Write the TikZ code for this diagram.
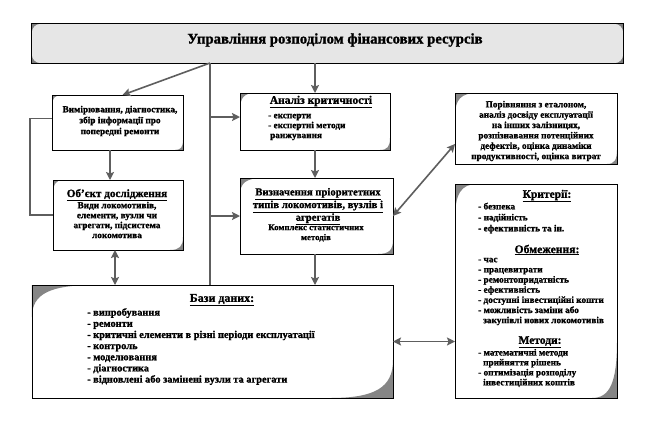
\documentclass[tikz,border=0pt]{standalone}
\usepackage{fontspec}
\setmainfont{Liberation Serif}[BoldFeatures={FakeBold=1.2}]
\usetikzlibrary{arrows.meta,calc}
\definecolor{linegray}{HTML}{5E5E5E}
\definecolor{curlgray}{HTML}{858585}
\definecolor{titlefill}{HTML}{E6E6E6}
\definecolor{titlecorner}{HTML}{7C7C7C}
\newcommand\curlTL[3]{\fill[curlgray] (#1.north west) -- ($(#1.north west)+(0,#3)$) .. controls ($(#1.north west)+(0,0.28*#3)$) and ($(#1.north west)+(0.28*#2,0)$) .. ($(#1.north west)+(#2,0)$) -- cycle;}
\newcommand\curlBR[3]{\fill[curlgray] (#1.south east) -- ($(#1.south east)+(0,-#3)$) .. controls ($(#1.south east)+(0,-0.28*#3)$) and ($(#1.south east)+(-0.28*#2,0)$) .. ($(#1.south east)+(-#2,0)$) -- cycle;}
\newcommand\boxline[1]{\draw[black,line width=0.8bp] (#1.north west) rectangle (#1.south east);}
\begin{document}
\begin{tikzpicture}[x=1bp,y=-1bp,
  boxfill/.style={fill=white,inner sep=0pt,outer sep=0pt},
  conn/.style={draw=linegray,line width=1.6bp},
  arr/.style={conn,-{Stealth[length=8bp,width=8bp,inset=1.5bp]}},
  darr/.style={conn,{Stealth[length=8bp,width=8bp,inset=1.5bp]}-{Stealth[length=8bp,width=8bp,inset=1.5bp]}},
  txt/.style={inner sep=0pt,align=center,font=\fontsize{9.3}{10.4}\selectfont\bfseries},
  ltxt/.style={inner sep=0pt,align=left,anchor=west,font=\fontsize{9.3}{10.2}\selectfont\bfseries},
  head/.style={inner sep=0pt,align=center,font=\fontsize{11.5}{12}\selectfont\bfseries}
]
\fill[white] (0,0) rectangle (650,420);
\useasboundingbox (0,0) rectangle (650,420);

% title
\node[fill=titlecorner,inner sep=0pt,minimum width=591bp,minimum height=39bp] (title) at (327.5,43.5) {};
\fill[titlefill,rounded corners=9bp] (title.north west) rectangle (title.south east);
\boxline{title}
\node[inner sep=0pt,font=\fontsize{14.8}{16}\selectfont\bfseries] (ttext) at (335,40) {Управління розподілом фінансових ресурсів};

% boxes
\node[boxfill,minimum width=131bp,minimum height=55bp] (b1) at (117.5,122.5) {};
\node[boxfill,minimum width=150bp,minimum height=57bp] (b2) at (315,121.5) {};
\node[boxfill,minimum width=162bp,minimum height=71bp] (b3) at (536,128.5) {};
\node[boxfill,minimum width=130bp,minimum height=70bp] (b4) at (118,215) {};
\node[boxfill,minimum width=153bp,minimum height=76bp] (b5) at (316.5,216) {};
\node[boxfill,minimum width=162bp,minimum height=214bp] (b6) at (536,291) {};
\node[boxfill,minimum width=361bp,minimum height=113bp] (db) at (212.5,341.5) {};

\curlTL{b1}{10}{11}\curlBR{b1}{8}{10}
\curlTL{b2}{15}{17}\curlBR{b2}{10}{12}
\curlTL{b3}{22}{23}\curlBR{b3}{10}{14}
\curlTL{b4}{10}{15}\curlBR{b4}{13}{13}
\curlTL{b5}{23}{17}\curlBR{b5}{15}{14}
\curlTL{b6}{22}{35}\curlBR{b6}{25}{57}
\curlTL{db}{63}{32}\curlBR{db}{63}{38}

\boxline{b1}\boxline{b2}\boxline{b3}\boxline{b4}\boxline{b5}\boxline{b6}\boxline{db}

% texts
\node[txt,font=\fontsize{9.3}{11}\selectfont\bfseries] (t1) at (120,121) {Вимірювання, діагностика,\\збір інформації про\\попередні ремонти};

\node[head] (h2) at (321,102) {\underline{Аналіз критичності}};
\node[ltxt,font=\fontsize{9.3}{10}\selectfont\bfseries] (t2) at (268,127) {- експерти\\- експертні методи\\\hspace*{2bp}ранжування};

\node[txt] (t3) at (536,131) {Порівняння з еталоном,\\аналіз досвіду експлуатації\\на інших залізницях,\\розпізнавання потенційних\\дефектів, оцінка динаміки\\продуктивності, оцінка витрат};

\node[head,font=\fontsize{11.2}{11}\selectfont\bfseries] (h4) at (117,195) {\underline{Об’єкт дослідження}};
\node[txt,font=\fontsize{9.3}{10}\selectfont\bfseries] (t4) at (117,220) {Види локомотивів,\\елементи, вузли чи\\агрегати, підсистема\\локомотива};

\node[head,font=\fontsize{10.7}{11.5}\selectfont\bfseries] (h5) at (318,206.5) {\underline{Визначення пріоритетних}\\\underline{типів локомотивів, вузлів і}\\\underline{агрегатів}};
\node[txt,font=\fontsize{8.8}{10}\selectfont\bfseries] (t5) at (316,233) {Комплекс статистичних\\методів};

\node[head,font=\fontsize{11.5}{12}\selectfont\bfseries] (h6a) at (547,196) {\underline{Критерії:}};
\node[ltxt,font=\fontsize{9.3}{11}\selectfont\bfseries] (t6a) at (478,218) {- безпека\\- надійність\\- ефективність та ін.};
\node[head,font=\fontsize{11.7}{12}\selectfont\bfseries] (h6b) at (547,250) {\underline{Обмеження:}};
\node[ltxt] (t6b) at (478,291.5) {- час\\- працевитрати\\- ремонтопридатність\\- ефективність\\- доступні інвестиційні кошти\\- можливість заміни або\\\hspace*{5bp}закупівлі нових локомотивів};
\node[head,font=\fontsize{11.5}{12}\selectfont\bfseries] (h6c) at (540,342) {\underline{Методи:}};
\node[ltxt,font=\fontsize{9.3}{10}\selectfont\bfseries] (t6c) at (478,368) {- математичні методи\\\hspace*{5bp}прийняття рішень\\- оптимізація розподілу\\\hspace*{5bp}інвестиційних коштів};

\node[head,font=\fontsize{12}{13}\selectfont\bfseries] (h7) at (222,300) {\underline{Бази даних:}};
\node[ltxt,font=\fontsize{10.4}{11.2}\selectfont\bfseries] (t7) at (87,346.5) {- випробування\\- ремонти\\- критичні елементи в різні періоди експлуатації\\- контроль\\- моделювання\\- діагностика\\- відновлені або замінені вузли та агрегати};

% connectors
\coordinate (tA) at (210,63);
\coordinate (j2) at (210,117);
\coordinate (c110) at (110,0);
\coordinate (c115) at (115,0);
\coordinate (c30) at (30,0);
\draw[arr] (tA) -- ($(b1.north)+(5,0)$);
\draw[conn] (tA) -- (tA |- db.north);
\draw[arr] (j2) -- (j2 -| b2.west);
\draw[arr] (tA |- b5.west) -- (b5.west);
\draw[arr] (title.south -| b2.north) -- (b2.north);
\draw[arr] (b2.south) -- (b2.south |- b5.north);
\draw[arr] (b2.south |- b5.south) -- (b2.south |- db.north);
\draw[arr] (c110 |- b1.south) -- (c110 |- b4.north);
\draw[darr] (c115 |- b4.south) -- (c115 |- db.north);
\draw[darr] (b5.east) -- ($(b3.south west)+(0,-20)$);
\draw[darr] (db.east) -- (db.east -| b6.west);
\draw[conn] ($(b1.west)+(0,-4)$) -| (c30 |- b4.west) -- (b4.west);
\end{tikzpicture}
\end{document}
